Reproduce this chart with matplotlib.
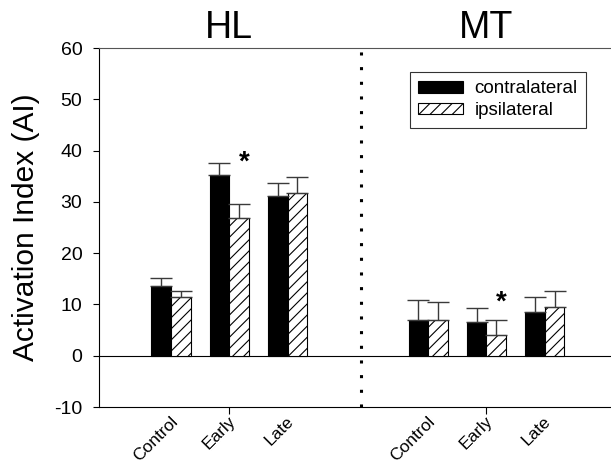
import matplotlib
matplotlib.use("Agg")
import matplotlib.pyplot as plt
import matplotlib.transforms as mtransforms
import numpy as np

plt.rcParams['font.family'] = ['Liberation Sans', 'DejaVu Sans']
plt.rcParams['hatch.linewidth'] = 0.8
plt.rcParams['axes.unicode_minus'] = False

categories = ["Control", "Early", "Late"]
regions = ["HL", "MT"]
series = ["contralateral", "ipsilateral"]

hl_contra = [13.5, 35.2, 31.2]
hl_contra_err = [1.6, 2.4, 2.5]
hl_ipsi = [11.4, 26.8, 31.7]
hl_ipsi_err = [1.3, 2.8, 3.2]

mt_contra = [7.0, 6.5, 8.5]
mt_contra_err = [3.9, 2.9, 2.9]
mt_ipsi = [6.9, 4.1, 9.5]
mt_ipsi_err = [3.6, 2.8, 3.2]

star_values = [37.6, 10.4]  # asterisk heights (HL Early, MT Early)

fig = plt.figure(figsize=(6.11, 4.61), dpi=100)
ax = fig.add_axes([99/611, 1-407/461, 1-99/611, (407-48)/461])

group_offset = [0.0, 4.42]
bw = 0.338
contra_all = [hl_contra, mt_contra]
contra_err_all = [hl_contra_err, mt_contra_err]
ipsi_all = [hl_ipsi, mt_ipsi]
ipsi_err_all = [hl_ipsi_err, mt_ipsi_err]

ekw = dict(ecolor='#3a3a3a', elinewidth=1.0, capsize=8, capthick=1.0)
tick_pos = []
tick_lab = []
for r in range(2):
    x = np.arange(len(categories)) + group_offset[r]
    c_err = [np.zeros(3), contra_err_all[r]]
    i_err = [np.zeros(3), ipsi_err_all[r]]
    ax.bar(x - bw/2, contra_all[r], bw, color='black', edgecolor='black',
           linewidth=0.8, yerr=c_err, error_kw=ekw,
           label=series[0] if r == 0 else None, zorder=3)
    ax.bar(x + bw/2, ipsi_all[r], bw, color='white', edgecolor='black',
           linewidth=0.8, hatch='///', yerr=i_err, error_kw=ekw,
           label=series[1] if r == 0 else None, zorder=3)
    ax.text(x[1] + bw/2 + 0.08, star_values[r], '*', fontsize=20,
            fontweight='bold', ha='center', va='center')
    ax.text(x[1], 61.95, regions[r], fontsize=27, ha='center', va='baseline')
    tick_pos.extend(list(x))
    tick_lab.extend(categories)

ax.set_xlim(-1.24, 7.56)
ax.set_ylim(-10, 60)
ax.set_yticks(np.arange(-10, 61, 10))
ax.tick_params(axis='y', direction='out', length=4, width=0.8, labelsize=14, pad=8)
ax.set_xticks(tick_pos)
ax.set_xticklabels(tick_lab, rotation=45, ha='right', va='center',
                   rotation_mode='anchor', fontsize=12.5)
ax.tick_params(axis='x', direction='out', length=5, width=0.8, pad=2)
for i, t in enumerate(ax.xaxis.get_major_ticks()):
    if i % 3 != 1:
        t.tick1line.set_visible(False)
offset = mtransforms.ScaledTranslation(4/100, -2/100, fig.dpi_scale_trans)
for lab in ax.get_xticklabels():
    lab.set_transform(lab.get_transform() + offset)

ax.spines['right'].set_visible(False)
ax.spines['top'].set_color('#555555')
ax.spines['top'].set_linewidth(0.8)
ax.spines['bottom'].set_linewidth(0.8)
ax.spines['left'].set_linewidth(0.8)
ax.axhline(0, color='black', linewidth=0.8, zorder=2)
ax.axvline(3.27, color='black', linewidth=2.2, linestyle=(0, (1, 3.8)),
           dash_capstyle='butt', zorder=2)

ax.set_ylabel('Activation Index (AI)', fontsize=21.5, labelpad=10)

leg = ax.legend(loc='upper right', bbox_to_anchor=(0.951, 0.933),
                borderaxespad=0, fontsize=13.5, frameon=True, fancybox=False,
                edgecolor='black', handlelength=2.4, handleheight=0.55,
                borderpad=0.45, labelspacing=0.25, handletextpad=0.6)
leg.get_frame().set_linewidth(0.8)

fig.savefig('out.png', dpi=100)
